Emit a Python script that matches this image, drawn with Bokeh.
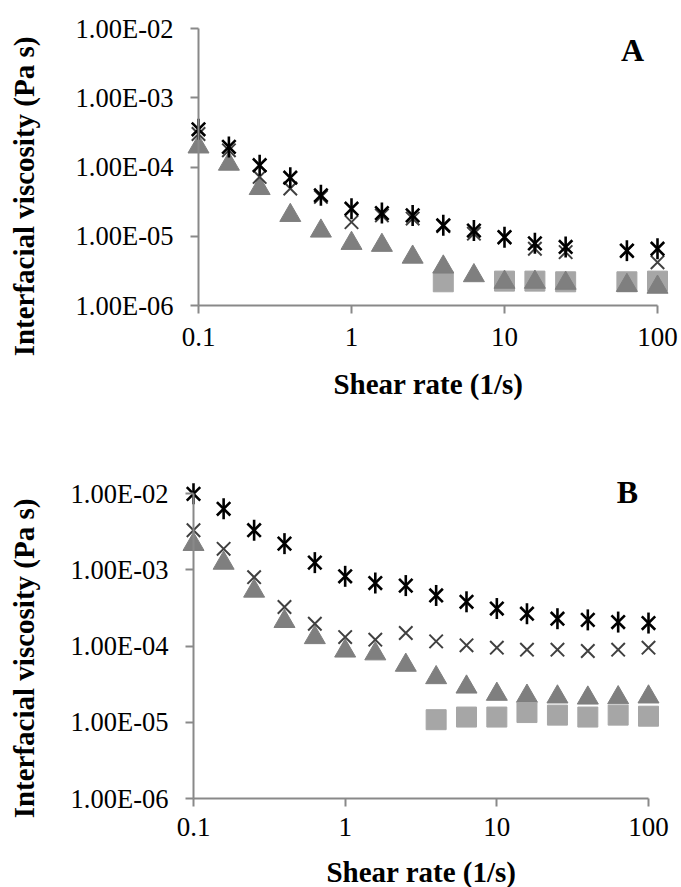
import math
from bokeh.plotting import figure
from bokeh.models import Range1d, FixedTicker, Label, LogAxis
from bokeh.layouts import column
from bokeh.embed import file_html
from bokeh.resources import INLINE

nan = float("nan")

shear_rate = [0.1, 0.158, 0.251, 0.398, 0.631, 1.0, 1.58, 2.51, 3.98, 6.31,
              10.0, 15.8, 25.1, 39.8, 63.1, 100.0]

# Panel A
a_star = [3.5e-4, 1.95e-4, 1.06e-4, 7.0e-5, 3.9e-5, 2.5e-5, 2.16e-5, 2.0e-5, 1.44e-5, 1.21e-5,
          9.7e-6, 7.9e-6, 7.0e-6, nan, 6.2e-6, 6.6e-6]
a_cross = [3.0e-4, 1.74e-4, 7.2e-5, 4.9e-5, 3.7e-5, 1.6e-5, 2.0e-5, 1.8e-5, 1.4e-5, 1.09e-5,
           9.6e-6, 6.6e-6, 5.9e-6, nan, 6.1e-6, 4.2e-6]
a_triangle = [1.95e-4, 1.1e-4, 4.9e-5, 2.0e-5, 1.19e-5, 7.9e-6, 7.4e-6, 5.0e-6, 3.6e-6, 2.7e-6,
              2.17e-6, 2.17e-6, 2.1e-6, nan, 1.95e-6, 1.84e-6]
a_square = [nan, nan, nan, nan, nan, nan, nan, nan, 2.2e-6, nan,
            2.25e-6, 2.25e-6, 2.2e-6, nan, 2.2e-6, 2.25e-6]

# Panel B
b_star = [9.9e-3, 6.3e-3, 3.3e-3, 2.2e-3, 1.24e-3, 8.2e-4, 6.7e-4, 6.2e-4, 4.6e-4, 3.8e-4,
          3.1e-4, 2.65e-4, 2.28e-4, 2.2e-4, 2.06e-4, 2.0e-4]
b_cross = [3.3e-3, 1.88e-3, 8.0e-4, 3.25e-4, 1.96e-4, 1.31e-4, 1.21e-4, 1.48e-4, 1.15e-4, 1.02e-4,
           9.5e-5, 8.95e-5, 8.95e-5, 8.6e-5, 8.95e-5, 9.5e-5]
b_triangle = [2.15e-3, 1.22e-3, 5.25e-4, 2.1e-4, 1.29e-4, 8.6e-5, 7.9e-5, 5.6e-5, 3.85e-5, 2.9e-5,
              2.33e-5, 2.2e-5, 2.15e-5, 2.08e-5, 2.1e-5, 2.15e-5]
b_square = [nan, nan, nan, nan, nan, nan, nan, nan, 1.08e-5, 1.17e-5,
            1.17e-5, 1.34e-5, 1.24e-5, 1.17e-5, 1.24e-5, 1.2e-5]

x_ticks = [0.1, 1, 10, 100]
x_tick_labels = ["0.1", "1", "10", "100"]
y_ticks = [1e-6, 1e-5, 1e-4, 1e-3, 1e-2]
y_tick_labels = ["1.00E-06", "1.00E-05", "1.00E-04", "1.00E-03", "1.00E-02"]

x_title = "Shear rate (1/s)"
y_title = "Interfacial viscosity (Pa s)"

SERIF = "Liberation Serif"
AXIS_COLOR = "#898989"
W = 681


def style_axis(ax, size):
    ax.axis_line_color = AXIS_COLOR
    ax.axis_line_width = 2
    ax.major_tick_line_color = AXIS_COLOR
    ax.major_tick_line_width = 2
    ax.major_tick_in = 0
    ax.major_tick_out = 8
    ax.minor_tick_line_color = None
    ax.major_label_text_font = SERIF
    ax.major_label_text_font_size = size
    ax.major_label_text_color = "black"


def make_panel(h, ax_x0, ax_x1, ax_ytop, ax_ybot, letter, letter_px, ylab_px, xlab_px,
               stars, crosses, triangles, squares, squares_on_top, xlab_standoff):
    dec_x = (ax_x1 - ax_x0) / 3.0
    dec_y = (ax_ybot - ax_ytop) / 4.0

    def dx(sx):
        return 10 ** (-1 + (sx - ax_x0) / dec_x)

    def dy(sy):
        return 10 ** (-2 - (sy - ax_ytop) / dec_y)

    # the frame covers the whole canvas; axes are placed at 0.1 and 1e-6
    p = figure(width=W, height=h, x_axis_type="log", y_axis_type="log",
               x_axis_location=None, y_axis_location=None,
               x_range=Range1d(dx(0), dx(W)), y_range=Range1d(dy(h), dy(0)),
               toolbar_location=None, output_backend="svg",
               min_border=0)
    p.outline_line_color = None
    p.grid.visible = False
    p.background_fill_color = "white"
    p.border_fill_color = "white"

    xa = LogAxis(ticker=FixedTicker(ticks=x_ticks, minor_ticks=[]),
                 fixed_location=y_ticks[0], bounds=(x_ticks[0], x_ticks[-1]))
    xa.major_label_overrides = {t: s for t, s in zip(x_ticks, x_tick_labels)}
    style_axis(xa, "27px")
    xa.major_label_standoff = xlab_standoff
    p.add_layout(xa, "below")

    ya = LogAxis(ticker=FixedTicker(ticks=y_ticks, minor_ticks=[]),
                 fixed_location=x_ticks[0], bounds=(y_ticks[0], y_ticks[-1]))
    ya.major_label_overrides = {t: s for t, s in zip(y_ticks, y_tick_labels)}
    style_axis(ya, "26.5px")
    ya.major_label_standoff = 17
    p.add_layout(ya, "left")

    def tri():
        p.scatter(shear_rate, triangles, marker="triangle", size=21,
                  fill_color="#7f7f7f", line_color="#7f7f7f")

    def sq():
        p.scatter(shear_rate, squares, marker="square", size=20,
                  fill_color="#a6a6a6", line_color="#a6a6a6")

    if squares_on_top:
        tri(); sq()
    else:
        sq(); tri()
    p.scatter(shear_rate, crosses, marker="x", size=19, line_color="#404040", line_width=2)
    p.scatter(shear_rate, stars, marker="x", size=19, line_color="black", line_width=2.6)
    p.scatter(shear_rate, stars, marker="dash", angle=math.pi / 2, size=21,
              line_color="black", line_width=2.6)

    p.add_layout(Label(x=dx(letter_px[0]), y=dy(letter_px[1]), text=letter,
                       text_align="center", text_baseline="middle",
                       text_font=SERIF, text_font_size="32px", text_font_style="bold",
                       text_color="black"))
    p.add_layout(Label(x=dx(ylab_px[0]), y=dy(ylab_px[1]), text=y_title, angle=math.pi / 2,
                       text_align="center", text_baseline="middle",
                       text_font=SERIF, text_font_size="29px", text_font_style="bold",
                       text_color="black"))
    p.add_layout(Label(x=dx(xlab_px[0]), y=dy(xlab_px[1]), text=x_title,
                       text_align="center", text_baseline="middle",
                       text_font=SERIF, text_font_size="29px", text_font_style="bold",
                       text_color="black"))
    return p


pa = make_panel(440, 198, 657, 28, 305, "A", (632, 49), (23, 196), (428, 383),
                a_star, a_cross, a_triangle, a_square, False, 14)
pb = make_panel(447, 193, 648, 53, 358, "B", (627, 51), (23, 218), (421, 431),
                b_star, b_cross, b_triangle, b_square, True, 11)

layout = column(pa, pb)
open("out.html", "w").write(file_html(layout, INLINE))
